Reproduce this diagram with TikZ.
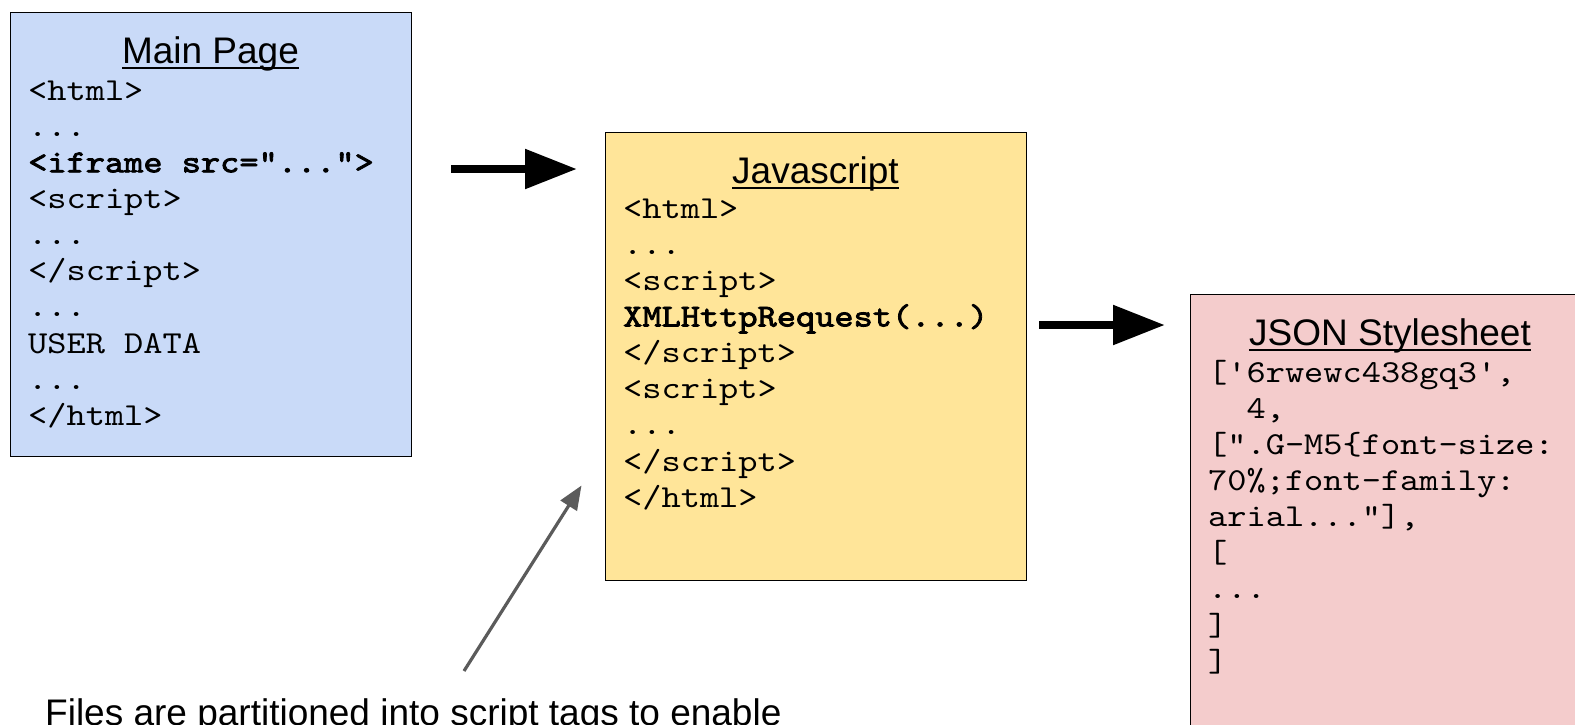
\documentclass[tikz,border=0pt]{standalone}
\usepackage{fontspec}
\setmainfont{Liberation Sans}
\setmonofont{lmmono10-regular.otf}[FakeStretch=1.143, BoldFont=lmmono10-regular.otf, BoldFeatures={FakeBold=2.5}]
\usetikzlibrary{arrows.meta}
\definecolor{bluefill}{HTML}{C9DAF8}
\definecolor{yellowfill}{HTML}{FFE599}
\definecolor{redfill}{HTML}{F4CCCC}
\definecolor{notegray}{HTML}{5B5B5B}
\newcommand{\mydots}{...}
\begin{document}
\begin{tikzpicture}[x=1pt,y=-1pt,
  box/.style={draw=black, line width=1.3pt, rectangle, inner sep=0pt, anchor=north west},
  title/.style={font=\fontsize{37}{40}\selectfont, inner sep=0pt, anchor=base},
  code/.style={font=\ttfamily\fontsize{32}{36}\selectfont, inner sep=0pt, anchor=base west},
  uline/.style={line width=1.8pt},
  bigarrow/.style={line width=8.5pt, -{Triangle[length=52pt,width=38pt]}},
  notearrow/.style={draw=notegray, line width=3.2pt, -{Triangle[length=24pt,width=19pt]}},
  note/.style={font=\fontsize{37}{40}\selectfont, inner sep=0pt, anchor=base west}]
\useasboundingbox (0,0) rectangle (1575,724);
\clip (0,0) rectangle (1575,724);
% boxes
\node[box, fill=bluefill, minimum width=401pt, minimum height=444pt] (mainbox) at (10,12) {};
\node[box, fill=yellowfill, minimum width=421pt, minimum height=448pt] (jsbox) at (605,132) {};
\node[box, fill=redfill, minimum width=400pt, minimum height=470pt] (jsonbox) at (1190,294) {};
% titles
\node[title] (maint) at (210.5,63) {Main Page};
\draw[uline] ([yshift=-5pt]maint.base west) -- ([yshift=-5pt]maint.base east);
\node[title] (jst) at (815.5,183) {Javascript};
\draw[uline] ([yshift=-5pt]jst.base west) -- ([yshift=-5pt]jst.base east);
\node[title] (jsont) at (1390,345) {JSON Stylesheet};
\draw[uline] ([yshift=-5pt]jsont.base west) -- ([yshift=-5pt]jsont.base east);
% code lines
\foreach \cl [count=\i from 0] in {{<html>},{\mydots},{\bfseries <iframe src="\mydots">},{<script>},{\mydots},{</script>},{\mydots},{USER DATA},{\mydots},{</html>}}
  \node[code] (m\i) at (28,{100+36.15*\i}) {\cl};
\foreach \cl [count=\i from 0] in {{<html>},{\mydots},{<script>},{\bfseries XMLHttpRequest(\mydots)},{</script>},{<script>},{\mydots},{</script>},{</html>}}
  \node[code] (j\i) at (623,{218+36.15*\i}) {\cl};
\foreach \cl [count=\i from 0] in {{['6rwewc438gq3',},{\phantom{00}4,},{[".G-M5\{font-size:},{70\%;font-family:},{arial\mydots"],},{[},{\mydots},{]},{]}}
  \node[code] (s\i) at (1208,{382+36.15*\i}) {\cl};
% arrows
\coordinate (a1s) at (451,169);
\coordinate (a1e) at (577,169);
\draw[bigarrow] (a1s) -- (a1e);
\coordinate (a2s) at (1039,325);
\coordinate (a2e) at (1165,325);
\draw[bigarrow] (a2s) -- (a2e);
% note
\node[note] (notetext) at (45,725) {Files are partitioned into script tags to enable};
\coordinate (ns) at (464,671);
\coordinate (ne) at (581.5,485.5);
\draw[notearrow] (ns) -- (ne);
\end{tikzpicture}
\end{document}
